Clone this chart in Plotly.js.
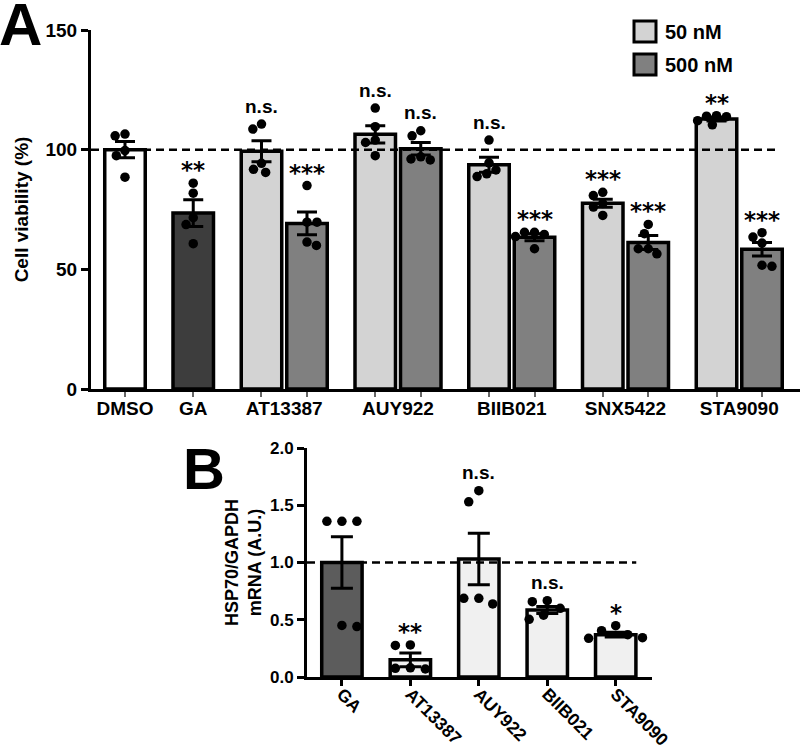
<!DOCTYPE html>
<html>
<head>
<meta charset="utf-8">
<script src="https://cdn.plot.ly/plotly-3.0.1.min.js"></script>
<style>html,body{margin:0;padding:0;background:#fff}#chart{width:800px;height:749px}</style>
</head>
<body>
<div id="chart"></div>
<script>
// ---------------- Panel A data ----------------
const A_groups = ['DMSO','GA','AT13387','AUY922','BIIB021','SNX5422','STA9090'];
const A_barGroup = ['DMSO','GA','AT13387','AT13387','AUY922','AUY922','BIIB021','BIIB021','SNX5422','SNX5422','STA9090','STA9090'];
const A_barDose = ['ctrl','GA','50 nM','500 nM','50 nM','500 nM','50 nM','500 nM','50 nM','500 nM','50 nM','500 nM'];
const A_mean = [100, 73.5, 99.3, 69.2, 106.4, 100.4, 93.7, 63.4, 77.6, 61.2, 112.8, 58.4];
const A_sem  = [3.4, 5.6, 4.4, 4.8, 3.6, 2.6, 3.1, 1.5, 1.7, 2.9, 0.8, 2.8];
const A_points = [
  [106.5, 105.8, 99.6, 97.5, 88.5],
  [86, 81.8, 71.6, 68.7, 60.7],
  [110.7, 108.6, 94.3, 91.8, 90.5],
  [85, 69.7, 69.7, 61.4, 60],
  [117.4, 109.6, 104, 103, 97.5],
  [107.9, 105.8, 97, 96.1, 95.7],
  [104, 94.5, 91.5, 89.9, 88.75],
  [65.5, 65.5, 64.6, 63.7, 58.6],
  [82.2, 80.8, 77.5, 76, 72.5],
  [68.75, 64.9, 58.6, 58.6, 56.5],
  [114.2, 114, 113.8, 112.1, 110.4],
  [65.3, 63.5, 61, 51.7, 51.25]
];
const A_sig = ['', '**', 'n.s.', '***', 'n.s.', 'n.s.', 'n.s.', '***', '***', '***', '**', '***'];
const A_yTicks = [0, 50, 100, 150];
const A_ref = 100;
const legendLabels = ['50 nM', '500 nM'];

// ---------------- Panel B data ----------------
const B_groups = ['GA','AT13387','AUY922','BIIB021','STA9090'];
const B_mean = [1.0, 0.15, 1.03, 0.585, 0.37];
const B_sem  = [0.225, 0.06, 0.225, 0.03, 0.02];
const B_points = [
  [1.36, 1.36, 1.36, 0.45, 0.44],
  [0.28, 0.276, 0.08, 0.076, 0.07],
  [1.627, 1.53, 0.687, 0.687, 0.638],
  [0.667, 0.658, 0.6, 0.54, 0.504],
  [0.448, 0.405, 0.37, 0.343, 0.338]
];
const B_sig = ['', '**', 'n.s.', 'n.s.', '*'];
const B_yTicks = [0, 0.5, 1.0, 1.5, 2.0];
const B_ref = 1.0;

// ---------------- styles ----------------
const FONT = 'Liberation Sans, Arial, Helvetica, sans-serif';
const STARFONT = 'DejaVu Sans, sans-serif';
const doseColor = {'ctrl':'#ffffff','GA':'#3d3d3d','50 nM':'#d3d3d3','500 nM':'#808080'};
const B_colors = B_groups.map(g => g === 'GA' ? '#5c5c5c' : '#f0f0f0');
const W = 800, H = 749;
const px = v => v / W, py = v => 1 - v / H;

// bar slots in panel A: single bars take one slot, pairs two, 0.5 slot gap between groups
const A_x = []; const A_centers = [];
let cursor = 0;
A_groups.forEach(g => {
  const n = A_barGroup.filter(b => b === g).length;
  for (let i = 0; i < n; i++) A_x.push(cursor + i);
  A_centers.push(cursor + (n - 1) / 2);
  cursor += n + 0.5;
});
const B_x = B_groups.map((g, i) => i);

// beeswarm-style horizontal spreading (pixels)
function swarm(vals, pxPerY, d) {
  const placed = [];
  vals.forEach((v, i) => {
    const y = v * pxPerY;
    const blocked = [];
    placed.forEach(p => {
      const dy = Math.abs(p.y - y);
      if (dy < d) { const w = Math.sqrt(d * d - dy * dy); blocked.push([p.x - w, p.x + w]); }
    });
    const cands = [0];
    blocked.forEach(b => cands.push(b[0], b[1]));
    cands.sort((a, b) => (Math.abs(a) - Math.abs(b)) || (i % 2 ? a - b : b - a));
    const x = cands.find(c => blocked.every(b => c <= b[0] + 1e-6 || c >= b[1] - 1e-6));
    placed.push({x: x, y: y});
  });
  return placed.map(p => p.x);
}

const A_pxX = 45.5, A_pxY = 359 / 150;
const B_pxX = 68.4, B_pxY = 229 / 2;

const A_ptX = [], A_ptY = [];
A_points.forEach((pts, i) => {
  const off = swarm(pts, A_pxY, 10);
  pts.forEach((v, j) => { A_ptX.push(A_x[i] + off[j] / A_pxX); A_ptY.push(v); });
});
const B_ptX = [], B_ptY = [];
B_points.forEach((pts, i) => {
  const off = swarm(pts, B_pxY, 15);
  pts.forEach((v, j) => { B_ptX.push(B_x[i] + off[j] / B_pxX); B_ptY.push(v); });
});

const traces = [
  {type:'bar', x:A_x, y:A_mean, width:0.89, xaxis:'x', yaxis:'y',
   marker:{color:A_barDose.map(d => doseColor[d]), line:{color:'#000', width:3.5}},
   error_y:{type:'data', array:A_sem, visible:true, color:'#000', thickness:3, width:10},
   showlegend:false, hoverinfo:'x+y'},
  {type:'scatter', mode:'markers', x:A_ptX, y:A_ptY, xaxis:'x', yaxis:'y',
   marker:{color:'#000', size:9.5}, showlegend:false, cliponaxis:false},
  // carrier for the group-label axis (draws nothing)
  {type:'scatter', mode:'none', x:A_centers, y:A_centers.map(() => null), xaxis:'x3', yaxis:'y',
   showlegend:false, hoverinfo:'skip'},
  {type:'bar', x:B_x, y:B_mean, width:0.59, xaxis:'x2', yaxis:'y2',
   marker:{color:B_colors, line:{color:'#000', width:3.5}},
   error_y:{type:'data', array:B_sem, visible:true, color:'#000', thickness:3, width:11},
   showlegend:false},
  {type:'scatter', mode:'markers', x:B_ptX, y:B_ptY, xaxis:'x2', yaxis:'y2',
   marker:{color:'#000', size:9.5}, showlegend:false, cliponaxis:false}
];

const annotations = [];
function sigAnn(xs, means, sems, pts, sig, xref, yref) {
  sig.forEach((s, i) => {
    if (!s) return;
    const top = Math.max(...pts[i], means[i] + sems[i]);
    const star = s.indexOf('*') >= 0;
    annotations.push({x: xs[i], y: top, xref: xref, yref: yref, text: s, showarrow: false,
      xanchor: 'center', yanchor: 'middle', yshift: star ? 13 : 18,
      font: {family: star ? STARFONT : FONT, size: star ? 23 : 19, weight: 700, color: '#000'}});
  });
}
sigAnn(A_x, A_mean, A_sem, A_points, A_sig, 'x', 'y');
sigAnn(B_x, B_mean, B_sem, B_points, B_sig, 'x2', 'y2');

// panel letters
annotations.push({x: px(-3), y: py(24), xref:'paper', yref:'paper', text:'A', showarrow:false,
  xanchor:'left', yanchor:'middle', font:{family:FONT, size:60, weight:700, color:'#000'}});
annotations.push({x: px(181), y: py(468), xref:'paper', yref:'paper', text:'B', showarrow:false,
  xanchor:'left', yanchor:'middle', font:{family:FONT, size:58, weight:700, color:'#000'}});
// legend text
legendLabels.forEach((t, i) => {
  annotations.push({x: px(663), y: py(32 + 33 * i), xref:'paper', yref:'paper', text:t, showarrow:false,
    xanchor:'left', yanchor:'middle', font:{family:FONT, size:20, weight:700, color:'#000'}});
});

const shapes = [];
legendLabels.forEach((t, i) => {
  shapes.push({type:'rect', xref:'paper', yref:'paper', x0:px(634), x1:px(656), y0:py(42 + 33 * i), y1:py(21 + 33 * i),
    fillcolor: doseColor[t], line:{color:'#000', width:3}});
});
const A_range = [-0.747, 14.835];
const B_range = [-0.51, 4.53];
shapes.push({type:'line', xref:'x', yref:'y', x0:A_range[0], x1:A_x[A_x.length - 1] + 0.36, y0:A_ref, y1:A_ref,
  line:{color:'#000', width:2.5, dash:'8px,5px'}});
shapes.push({type:'line', xref:'x2', yref:'y2', x0:B_range[0], x1:B_x[B_x.length - 1] + 0.3, y0:B_ref, y1:B_ref,
  line:{color:'#000', width:2.5, dash:'8px,5px'}});

const tickFont = {family:FONT, size:19, weight:700, color:'#000'};
const layout = {
  width: W, height: H, margin:{l:0, r:0, t:0, b:0}, paper_bgcolor:'#fff', plot_bgcolor:'rgba(0,0,0,0)',
  showlegend:false, bargap:0,
  font:{family:FONT, color:'#000'},
  xaxis:{domain:[px(91), 1], anchor:'y', range:A_range, tickvals:A_x, showticklabels:false,
    ticks:'outside', ticklen:5, tickwidth:2, tickcolor:'#666', showline:true, linewidth:3, linecolor:'#000',
    showgrid:false, zeroline:false, fixedrange:true},
  xaxis3:{overlaying:'x', anchor:'y', range:A_range, tickvals:A_centers, ticktext:A_groups,
    ticks:'', showline:false, showgrid:false, zeroline:false, tickfont:tickFont, ticklabelstandoff:6},
  yaxis:{domain:[py(389), py(30)], anchor:'x', range:[0, 150], tickvals:A_yTicks,
    ticks:'outside', ticklen:7, tickwidth:3, tickcolor:'#000', showline:true, linewidth:3, linecolor:'#000',
    showgrid:false, zeroline:false, tickfont:tickFont,
    title:{text:'Cell viability (%)', font:{family:FONT, size:19, weight:700, color:'#000'}, standoff:12}},
  xaxis2:{domain:[px(307), px(652)], anchor:'y2', range:B_range, tickvals:B_x, ticktext:B_groups, tickangle:45,
    ticks:'outside', ticklen:6, tickwidth:3, tickcolor:'#000', showline:true, linewidth:3, linecolor:'#000',
    showgrid:false, zeroline:false, ticklabelstandoff:-9, tickfont:{family:FONT, size:17.5, weight:700, color:'#000'}},
  yaxis2:{domain:[py(677), py(448)], anchor:'x2', range:[0, 2], tickvals:B_yTicks, tickformat:'.1f',
    ticks:'outside', ticklen:7, tickwidth:3, tickcolor:'#000', showline:true, linewidth:3, linecolor:'#000',
    showgrid:false, zeroline:false, tickfont:{family:FONT, size:17, weight:700, color:'#000'},
    title:{text:'HSP70/GAPDH<br>mRNA (A.U.)', font:{family:FONT, size:18, weight:700, color:'#000'}, standoff:4}},
  annotations: annotations,
  shapes: shapes
};

Plotly.newPlot('chart', traces, layout, {staticPlot:true, displayModeBar:false});
</script>
</body>
</html>
